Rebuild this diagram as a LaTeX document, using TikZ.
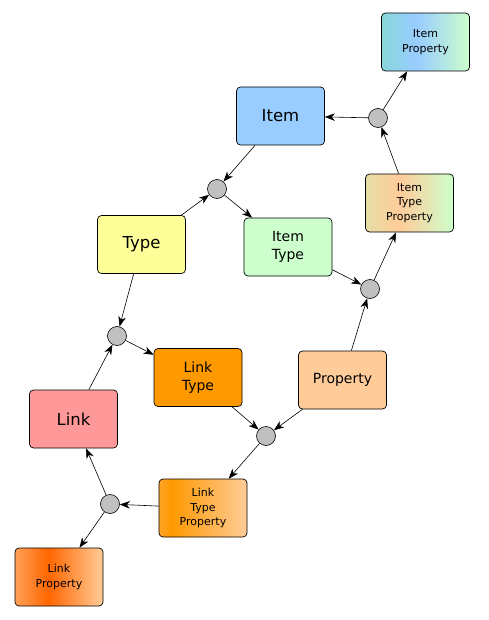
\documentclass[tikz,border=0pt]{standalone}
\usepackage{fontspec}
\setmainfont{DejaVu Sans}
\usetikzlibrary{arrows.meta}

% Box colours.
\definecolor{itemblue}{HTML}{99CCFF}
\definecolor{typeyellow}{HTML}{FFFF99}
\definecolor{itemgreen}{HTML}{CCFFCC}
\definecolor{linkpink}{HTML}{FF9999}
\definecolor{linkorange}{HTML}{FF9900}
\definecolor{proppeach}{HTML}{FFCC99}
\definecolor{hubgray}{HTML}{C0C0C0}
\definecolor{ipleft}{HTML}{8AD6DC}
\definecolor{itpleft}{HTML}{E6DEA6}
\definecolor{ltpleft}{HTML}{FFA428}
\definecolor{lpleft}{HTML}{FFA058}
\definecolor{lpdark}{HTML}{FF6600}

% Gradients for the property boxes.
\pgfdeclarehorizontalshading{itempropshade}{100bp}{color(0bp)=(ipleft); color(25bp)=(ipleft); color(45bp)=(itemblue); color(75bp)=(itemgreen); color(100bp)=(itemgreen)}
\pgfdeclarehorizontalshading{itemtypepropshade}{100bp}{color(0bp)=(itpleft); color(25bp)=(itpleft); color(44bp)=(proppeach); color(75bp)=(itemgreen); color(100bp)=(itemgreen)}
\pgfdeclarehorizontalshading{linktypepropshade}{100bp}{color(0bp)=(ltpleft); color(25bp)=(ltpleft); color(32bp)=(linkorange); color(75bp)=(proppeach); color(100bp)=(proppeach)}
\pgfdeclarehorizontalshading{linkpropshade}{100bp}{color(0bp)=(lpleft); color(25bp)=(lpleft); color(44bp)=(lpdark); color(75bp)=(proppeach); color(100bp)=(proppeach)}

\begin{document}
\begin{tikzpicture}[x=1pt,y=-1pt,
    box/.style={draw,rounded corners=4pt,minimum width=88pt,minimum height=58pt,
        align=center,inner sep=2pt,line width=0.7pt},
    bigtext/.style={font=\fontsize{16.5}{20}\selectfont},
    midtext/.style={font=\fontsize{14}{17.5}\selectfont},
    smalltext/.style={font=\fontsize{11}{14.5}\selectfont},
    hub/.style={circle,draw,fill=hubgray,minimum size=19pt,inner sep=0pt,line width=0.6pt},
    conn/.style={-{Stealth[length=10pt,width=7.5pt,inset=3pt]},line width=0.6pt}]

\useasboundingbox[fill=white] (0,0) rectangle (488,620);

% Entity boxes.
\node[box,bigtext,fill=itemblue]    (item)     at (280.5,116) {Item};
\node[box,bigtext,fill=typeyellow]  (type)     at (141.5,244.5) {Type};
\node[box,bigtext,fill=linkpink]    (link)     at (73.5,419) {Link};
\node[box,midtext,fill=itemgreen]   (itemtype) at (288,247) {Item\\Type};
\node[box,midtext,fill=linkorange]  (linktype) at (198,377.5) {Link\\Type};
\node[box,midtext,fill=proppeach]   (property) at (342.5,380) {Property};

% Property boxes with gradients.
\node[box,smalltext,shading=itempropshade]     (itemprop)     at (425.5,42) {Item\\Property};
\node[box,smalltext,shading=itemtypepropshade] (itemtypeprop) at (409.5,203) {Item\\Type\\Property};
\node[box,smalltext,shading=linktypepropshade] (linktypeprop) at (203,508) {Link\\Type\\Property};
\node[box,smalltext,shading=linkpropshade]     (linkprop)     at (59,577) {Link\\Property};

% Junction circles.
\node[hub] (hubA) at (217,189) {};
\node[hub] (hubB) at (370,289) {};
\node[hub] (hubC) at (378,118) {};
\node[hub] (hubD) at (117,336) {};
\node[hub] (hubE) at (266,436) {};
\node[hub] (hubF) at (110,504) {};

% Arrows between boxes and junctions.
\foreach \s/\t in {item/hubA,type/hubA,hubA/itemtype,
    itemtype/hubB,property/hubB,hubB/itemtypeprop,
    itemtypeprop/hubC,hubC/item,hubC/itemprop,
    type/hubD,link/hubD,hubD/linktype,
    linktype/hubE,property/hubE,hubE/linktypeprop,
    linktypeprop/hubF,hubF/link,hubF/linkprop} {
    \draw[conn] (\s) -- (\t);
}
\end{tikzpicture}
\end{document}
